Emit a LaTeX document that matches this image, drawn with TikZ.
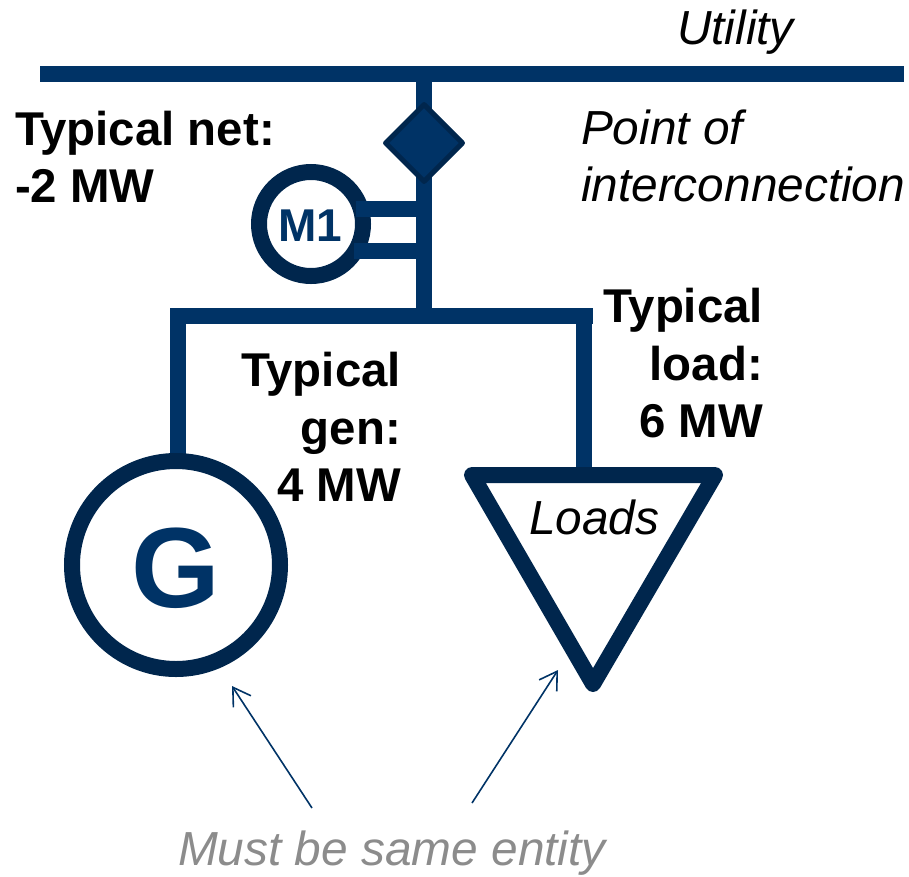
\documentclass[tikz,border=0pt]{standalone}
\usepackage{fontspec}
\setmainfont{Liberation Sans}
\usetikzlibrary{arrows.meta,shapes.geometric}
\definecolor{busblue}{HTML}{003366}
\definecolor{darkblue}{HTML}{00264D}
\definecolor{graytxt}{HTML}{8C8C8C}
\tikzset{
  wire/.style={draw=busblue,line width=16pt},
  ring/.style={circle,draw=darkblue,line width=16pt,fill=white,inner sep=0pt},
  note/.style={inner sep=0pt,outer sep=0pt,font=\fontsize{47.8}{57.5}\selectfont\itshape},
  stat/.style={inner sep=0pt,outer sep=0pt,font=\fontsize{47.4}{57.5}\selectfont\bfseries},
  pointer/.style={draw=busblue,line width=1.6pt,-{Straight Barb[length=17pt,width=21pt,line width=1.6pt]}}
}
\begin{document}
\begin{tikzpicture}[x=1pt,y=-1pt]
\useasboundingbox (0,0) rectangle (909,876);
% bus and junctions
\coordinate (busL) at (40,74);
\coordinate (busR) at (904,74);
\coordinate (busT) at (424,74);
\coordinate (subT) at (424,316);
\coordinate (subL) at (170,316);
\coordinate (subR) at (593,316);
\coordinate (genT) at (178,316);
\coordinate (loadT) at (584,316);
\coordinate (stubA) at (424,209);
\coordinate (stubB) at (424,251);
\coordinate (motorA) at (356,209);
\coordinate (motorB) at (354,251);
\coordinate (genW) at (178,460);
\coordinate (loadW) at (584,476);
\draw[wire] (busL) -- (busR);
\draw[wire] (busT) -- (subT);
\draw[wire] (subL) -- (subR);
\draw[wire] (genT) -- (genW);
\draw[wire] (loadT) -- (loadW);
% generator
\node[ring,minimum size=208pt] (gen) at (176,565) {};
\node[inner sep=0pt,text=busblue,font=\fontsize{114}{114}\selectfont\bfseries] (genlabel) at (175.5,568) {G};
% motor
\node[ring,minimum size=104pt] (motor) at (311,224) {};
\draw[wire] (motorA) -- (stubA);
\draw[wire] (motorB) -- (stubB);
\node[inner sep=0pt,text=busblue,font=\fontsize{46}{46}\selectfont\bfseries] (motorlabel) at (310,226) {M1};
% point of interconnection
\node[diamond,draw=darkblue,fill=busblue,line width=5pt,line join=round,minimum width=79pt,minimum height=79pt,inner sep=0pt] (poi) at (424,143) {};
% load triangle
\coordinate (triL) at (472,475);
\coordinate (triR) at (715,475);
\coordinate (triB) at (593,684);
\draw[draw=darkblue,fill=white,line width=16pt,line join=round] (triL) -- (triR) -- (triB) -- cycle;
\node[note,anchor=base west] (loads) at (529,534) {Loads};
% pointers
\coordinate (pgS) at (312,808);
\coordinate (pgE) at (232,686);
\coordinate (plS) at (472,803);
\coordinate (plE) at (558,670);
\draw[pointer] (pgS) -- (pgE);
\draw[pointer] (plS) -- (plE);
% texts
\node[note,anchor=base west] (utility) at (677,44) {Utility};
\node[note,anchor=north west,align=left] (poitext) at (581,109.5) {Point of\\interconnection};
\node[stat,anchor=north west,align=left] (net) at (15,111) {Typical net:\\-2 MW};
\node[stat,anchor=north east,align=right] (gentext) at (401,352.5) {Typical\\gen:\\4 MW};
\node[stat,anchor=north east,align=right] (loadtext) at (763,288.5) {Typical\\load:\\6 MW};
\node[note,anchor=base west,text=graytxt] (same) at (178,865) {Must be same entity};
\end{tikzpicture}
\end{document}
